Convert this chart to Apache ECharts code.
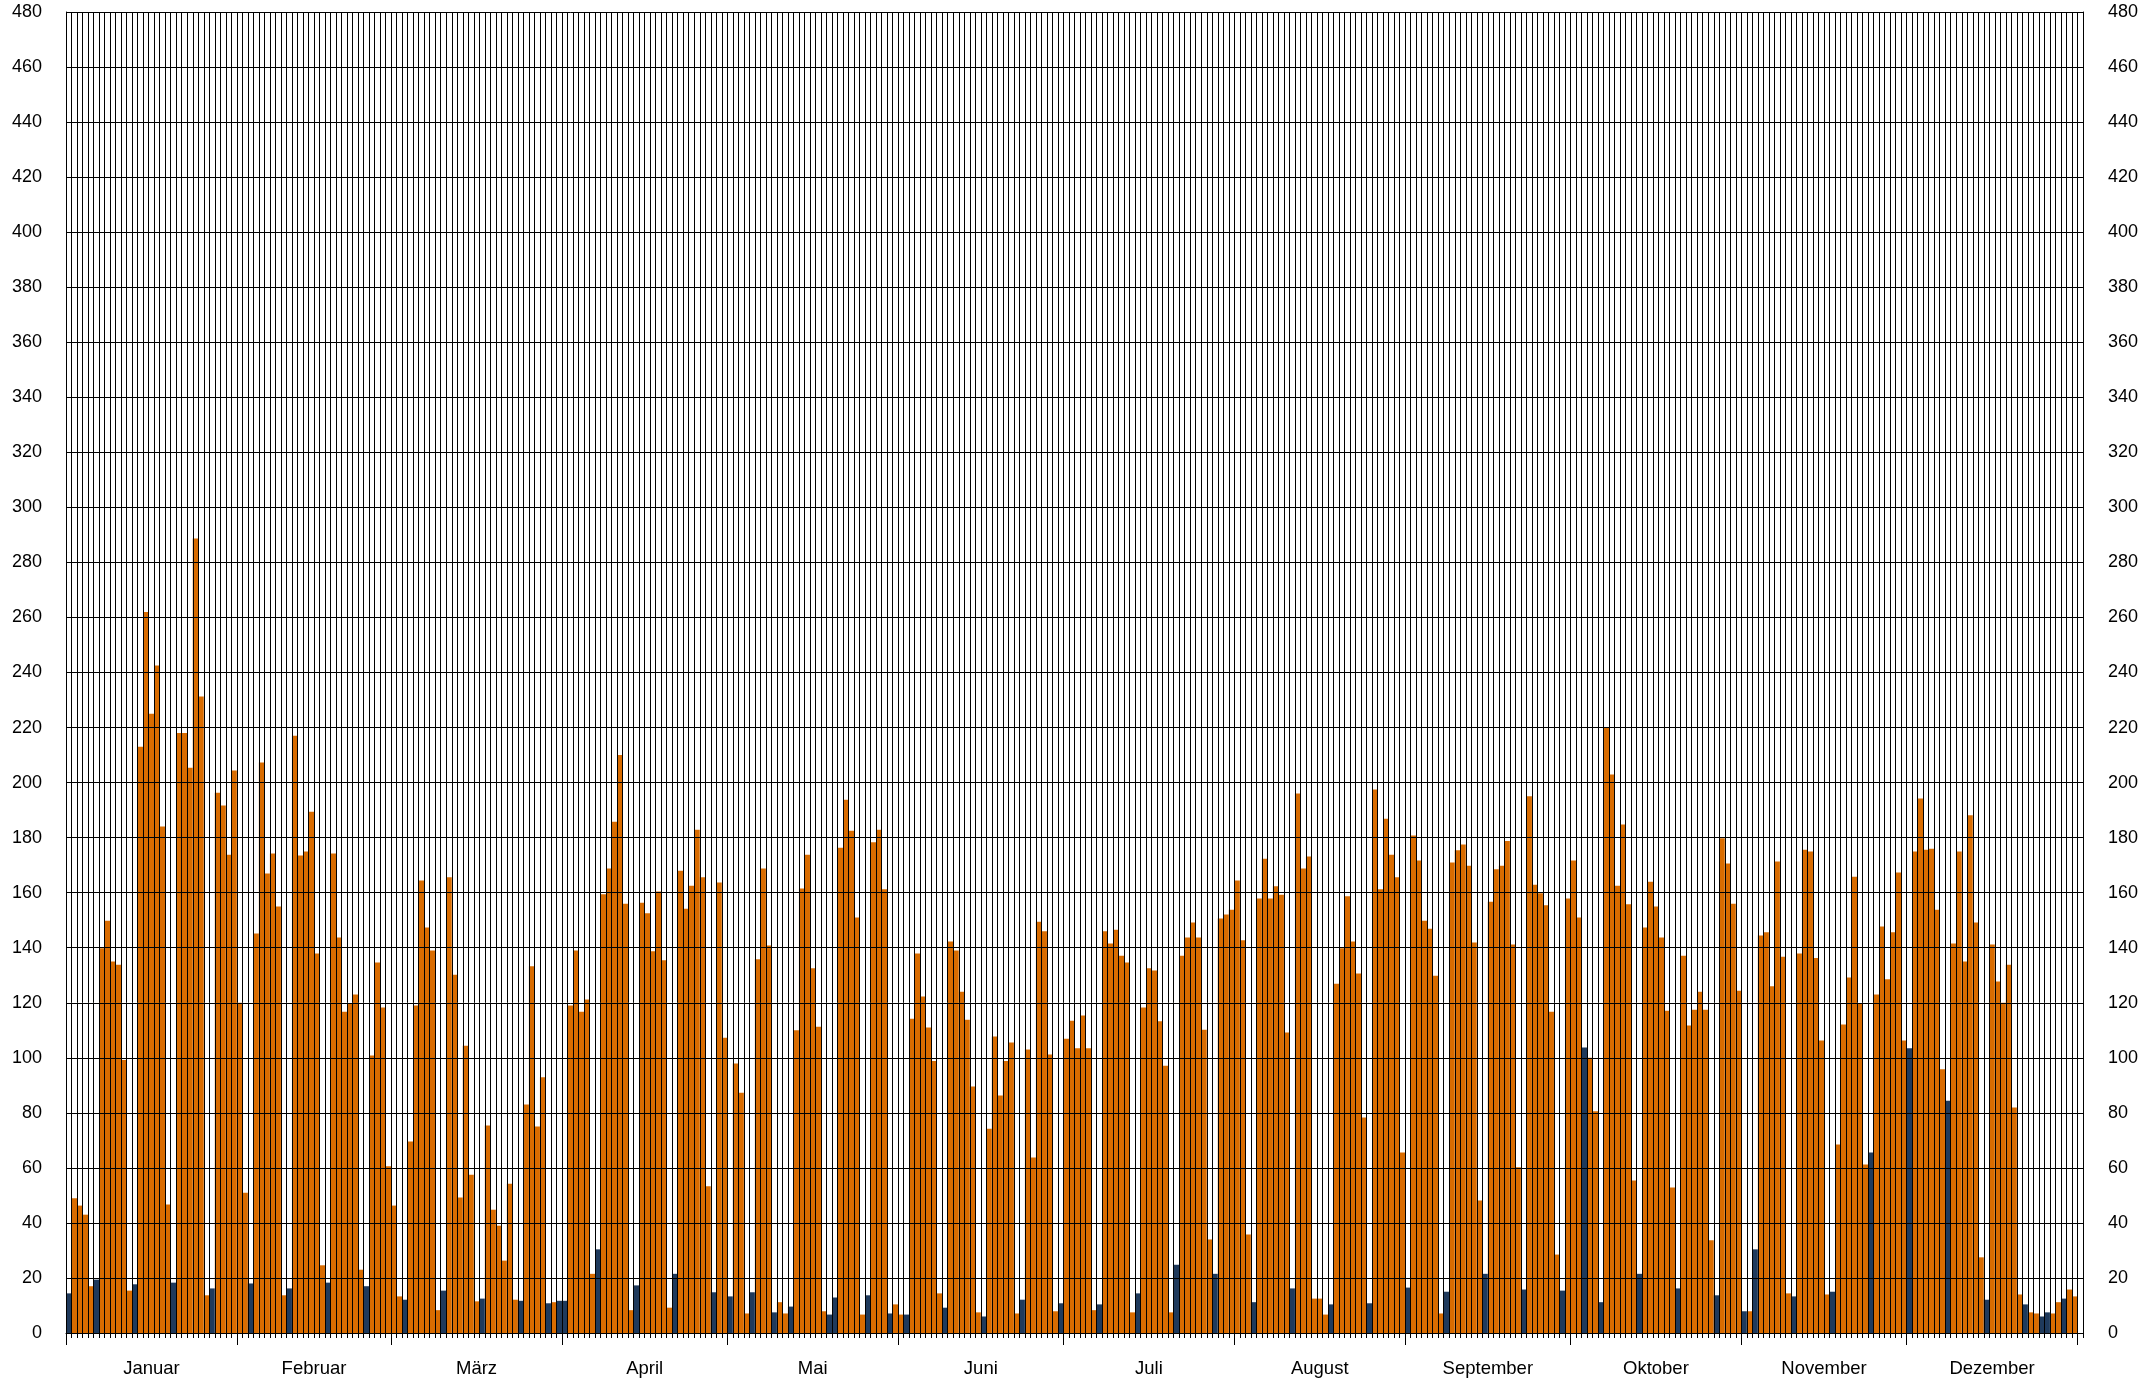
<!DOCTYPE html>
<html><head><meta charset="utf-8">
<script src="https://cdn.jsdelivr.net/npm/echarts@6/dist/echarts.min.js"></script>
<style>html,body{margin:0;padding:0;background:#fff}#c{width:2152px;height:1379px}</style>
</head><body><div id="c"></div><script>
// Month names (x-axis labels)
const monthNames = ['Januar','Februar','März','April','Mai','Juni','Juli','August','September','Oktober','November','Dezember'];
// Daily values per month (2013)
const jan = [14.4,49,46.3,43,17,19.4,139.8,149.8,135,133.8,99.2,15.4,17.7,213,262,225,242.5,184,46.7,18.3,218,218,205.4,288.7,231.3,13.7,16.2,196.3,191.7,173.8,204.4];
const feb = [120,51,18,145.2,207.3,167,174.2,155,13.7,16.2,217,173.5,175,189.4,137.9,24.6,18.3,174.2,143.7,116.7,119.6,123,23,17,100.8,134.6,118.3,60.6];
const mar = [46.3,13.3,12.1,69.6,119,164.4,147.3,139,8.3,15.4,165.6,130.2,49.2,104.4,57.5,11.5,12.5,75.4,44.8,39,26.3,54.2,12.1,11.7,83,133.3,75,92.9,10.8,11.2,11.7];
const apr = [11.7,119,139,116.7,121.2,21.5,30.4,159.4,168.8,185.8,210,156,8.3,17.3,156.3,152.5,138.7,160.4,135.4,9.2,21.5,168,154.2,162.5,182.9,165.6,53.3,14.8,163.7,107.3];
const may = [13.3,97.9,87.3,7.1,14.8,135.8,168.8,140.8,7.5,11.2,7.1,9.6,110,161.5,173.8,132.5,111.3,7.9,6.7,12.9,176.3,193.8,182.5,151,6.7,13.7,178.3,182.9,161.2,7.1,10.4];
const jun = [6.7,6.7,114.2,137.9,122.3,111,98.8,14.4,9.2,142.3,139,124,113.8,89.6,7.5,6,74.2,107.7,86.3,98.8,105.6,7.1,12.1,103,63.8,149.4,146,101.2,7.9,10.8];
const jul = [106.9,113.5,103.5,115.4,103.5,8.3,10.4,146,141.5,146.5,137.1,134.6,7.5,14.4,118.3,132.5,131.7,113.3,97.1,7.5,24.8,137.1,143.7,149.2,143.7,110.2,34,21.5,150.6,152.1,153.8];
const aug = [164.4,142.7,35.8,11.2,157.9,172.3,157.9,162.3,159.2,109.2,16.2,196,168.8,173.1,12.5,12.5,6.7,10.4,126.9,139.8,158.7,142.3,130.6,78.3,10.8,197.5,161.2,186.9,173.8,165.6,65.6];
const sep = [16.5,180.8,171.7,149.8,146.9,129.8,7.1,15,171,175.4,177.5,169.8,141.9,48.1,21.5,156.7,168.5,169.8,178.8,141.2,60.2,15.8,195,162.9,159.8,155.4,116.7,28.5,15.4,157.9];
const oct = [171.7,151,103.7,100,80.6,11.2,220.2,202.9,162.5,184.8,155.8,55.4,21.5,147.3,164,155,143.7,117.1,52.9,16.2,137.1,111.7,117.5,124,117.5,33.7,13.7,179.8,170.6,156,124.4];
const nov = [7.9,7.9,30.4,144.4,145.6,126,171.3,136.7,14.4,13.3,137.9,175.6,175,136.3,106.3,14,15,68.5,112.1,129.2,165.8,119.6,61.2,65.6,123,147.7,128.5,145.6,167.3,106.3];
const dec = [103.5,175,194.2,175.6,176,153.8,95.8,84.4,141.5,175,135,188.1,149.2,27.5,12.1,141.2,127.7,120,133.8,81.9,14,10.4,7.5,7.1,6,7.5,7.1,11.2,12.5,15.8,13.3];
// Sundays and public holidays (day of month), drawn dark
const darkJan = [1,6,13,20,27];
const darkFeb = [3,10,17,24];
const darkMar = [3,10,17,24,29,31];
const darkApr = [1,7,14,21,28];
const darkMay = [1,5,9,12,19,20,26,30];
const darkJun = [2,9,16,23,30];
const darkJul = [7,14,21,28];
const darkAug = [4,11,18,25];
const darkSep = [1,8,15,22,29];
const darkOct = [3,6,13,20,27];
const darkNov = [1,3,10,17,24];
const darkDec = [1,8,15,22,25,26,29];
// Y axis ticks
const yMin = 0, yMax = 480, yStep = 20;

const monthValues = [jan,feb,mar,apr,may,jun,jul,aug,sep,oct,nov,dec];
const monthDark = [darkJan,darkFeb,darkMar,darkApr,darkMay,darkJun,darkJul,darkAug,darkSep,darkOct,darkNov,darkDec];

const categories = [], workData = [], darkData = [];
const monthStarts = [], monthCenters = [];
let idx = 0;
monthValues.forEach((arr, m) => {
  monthStarts.push(idx);
  monthCenters.push(idx + arr.length / 2);
  arr.forEach((v, i) => {
    categories.push((i + 1) + '.' + (m + 1) + '.');
    const isDark = monthDark[m].indexOf(i + 1) >= 0;
    workData.push(isDark ? '-' : v);
    darkData.push(isDark ? v : '-');
    idx++;
  });
});
monthStarts.push(idx);
// one empty trailing slot as in the original
categories.push('');
workData.push('-');
darkData.push('-');
const nSlots = categories.length;

const font = 'Liberation Sans, Arial, sans-serif';
const chart = echarts.init(document.getElementById('c'), null, {renderer: 'canvas'});
chart.setOption({
  animation: false,
  backgroundColor: '#ffffff',
  grid: {left: 66, right: 69, top: 12, bottom: 46, containLabel: false},
  xAxis: [
    {
      type: 'category', data: categories, boundaryGap: true, z: 10,
      axisLine: {show: true, lineStyle: {color: '#000', width: 1}},
      axisTick: {show: true, interval: 0, length: 5, lineStyle: {color: '#000'}},
      axisLabel: {show: false},
      splitLine: {show: true, interval: 0, lineStyle: {color: '#000', width: 1}}
    },
    {
      type: 'value', min: 0, max: nSlots, position: 'bottom', z: 10,
      axisLine: {show: false},
      splitLine: {show: false},
      axisTick: {show: true, customValues: monthStarts, length: 12, lineStyle: {color: '#000'}},
      axisLabel: {
        show: true, customValues: monthCenters, margin: 26,
        fontFamily: font, fontSize: 18.5, color: '#000',
        formatter: function (v) {
          for (let i = 0; i < monthCenters.length; i++) if (Math.abs(monthCenters[i] - v) < 0.01) return monthNames[i];
          return '';
        }
      }
    }
  ],
  yAxis: [
    {
      type: 'value', min: yMin, max: yMax, interval: yStep, position: 'left', z: 10,
      axisLine: {show: true, lineStyle: {color: '#000'}},
      axisTick: {show: false},
      axisLabel: {fontFamily: font, fontSize: 18, color: '#000', margin: 24},
      splitLine: {show: true, lineStyle: {color: '#000', width: 1}}
    },
    {
      type: 'value', min: yMin, max: yMax, interval: yStep, position: 'right', z: 10,
      axisLine: {show: true, lineStyle: {color: '#000'}},
      axisTick: {show: false},
      axisLabel: {fontFamily: font, fontSize: 18, color: '#000', margin: 25},
      splitLine: {show: false}
    }
  ],
  series: [
    {
      name: 'Werktag', type: 'bar', xAxisIndex: 0, yAxisIndex: 0, data: workData,
      barGap: '-100%', barCategoryGap: '0%',
      itemStyle: {color: '#D96C00'}
    },
    {
      name: 'Sonn-/Feiertag', type: 'bar', xAxisIndex: 0, yAxisIndex: 0, data: darkData,
      barGap: '-100%', barCategoryGap: '0%',
      itemStyle: {color: '#1F3A5C'}
    }
  ]
});
</script></body></html>
